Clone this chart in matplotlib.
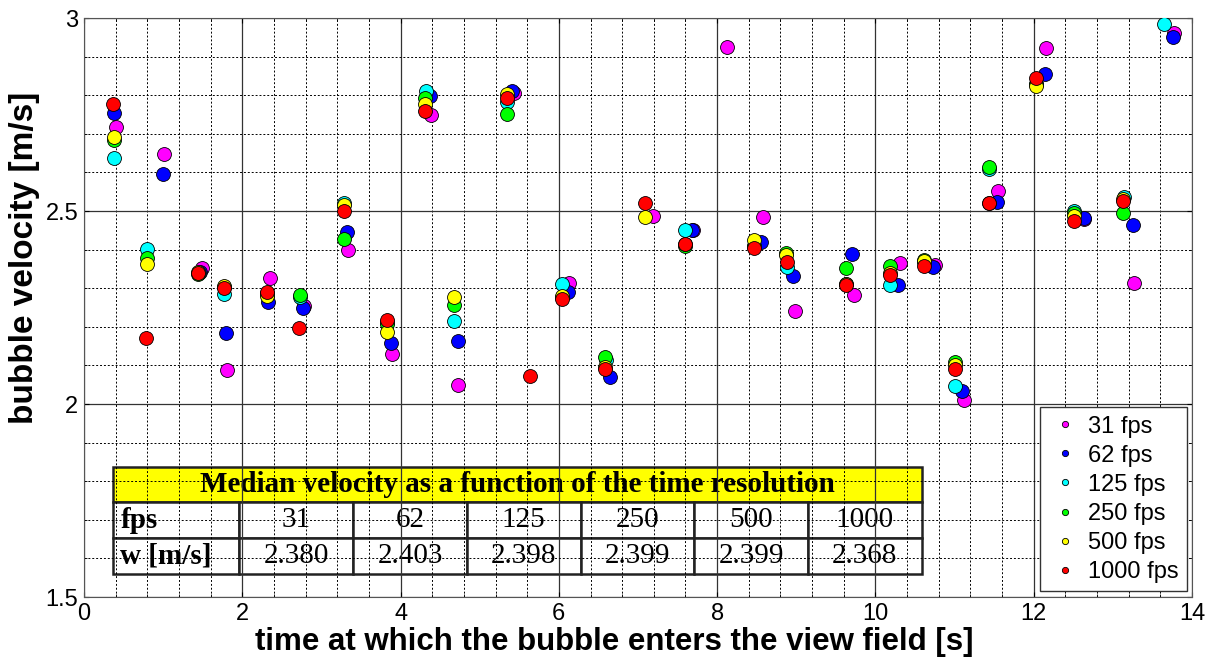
#!/usr/bin/env python3

import numpy as np
import matplotlib
matplotlib.use("Agg")
import matplotlib.pyplot as plt
from matplotlib.ticker import MultipleLocator

# bubble entry time [s] and velocity [m/s], one pair of lists per frame rate
t_31 = [0.40, 1.01, 1.49, 1.81, 2.35, 2.78, 3.34, 3.89, 4.39, 4.73, 5.43, 6.13,
        7.19, 7.70, 8.13, 8.58, 8.98, 9.73, 10.31, 10.75, 11.12, 11.55, 12.16,
        12.64, 13.27, 13.77]
v_31 = [2.718, 2.648, 2.353, 2.087, 2.326, 2.253, 2.399, 2.129, 2.749, 2.048, 2.805, 2.314,
        2.487, 2.452, 2.926, 2.484, 2.242, 2.282, 2.366, 2.360, 2.010, 2.551, 2.923,
        2.478, 2.314, 2.962]

t_62 = [0.38, 1.00, 1.46, 1.79, 2.33, 2.77, 3.32, 3.88, 4.37, 4.72, 5.41, 6.11,
        6.65, 7.68, 8.56, 8.96, 9.71, 10.29, 10.73, 11.10, 11.54, 12.14, 12.63,
        13.25, 13.76]
v_62 = [2.753, 2.596, 2.342, 2.184, 2.264, 2.250, 2.446, 2.159, 2.799, 2.162, 2.812, 2.290,
        2.071, 2.452, 2.421, 2.331, 2.389, 2.309, 2.355, 2.034, 2.523, 2.855, 2.481,
        2.465, 2.952]

t_125 = [0.38, 0.80, 1.45, 1.77, 2.31, 2.73, 3.29, 3.83, 4.32, 4.68, 5.35, 6.04,
         6.59, 7.60, 8.47, 8.88, 9.63, 10.19, 10.62, 11.00, 11.44, 12.03, 12.51,
         13.14, 13.64]
v_125 = [2.638, 2.401, 2.340, 2.285, 2.285, 2.278, 2.520, 2.212, 2.812, 2.215, 2.783, 2.312,
         2.115, 2.450, 2.410, 2.356, 2.310, 2.308, 2.368, 2.047, 2.610, 2.830, 2.501,
         2.537, 2.985]

t_250 = [0.38, 0.80, 1.44, 1.77, 2.31, 2.73, 3.29, 3.83, 4.31, 4.67, 5.35, 6.04,
         6.58, 7.59, 8.47, 8.87, 9.63, 10.19, 10.62, 11.00, 11.43, 12.03, 12.51,
         13.13]
v_250 = [2.684, 2.379, 2.337, 2.303, 2.287, 2.282, 2.428, 2.208, 2.792, 2.256, 2.751, 2.278,
         2.123, 2.410, 2.410, 2.392, 2.352, 2.357, 2.372, 2.110, 2.615, 2.830, 2.494,
         2.494]

t_500 = [0.38, 0.80, 1.44, 1.77, 2.31, 3.29, 3.83, 4.31, 4.67, 5.35, 6.04,
         6.58, 7.09, 7.59, 8.47, 8.87, 9.63, 10.19, 10.62, 11.00, 11.43, 12.03,
         12.51, 13.13]
v_500 = [2.691, 2.362, 2.342, 2.305, 2.280, 2.515, 2.187, 2.777, 2.276, 2.803, 2.280,
         2.095, 2.485, 2.415, 2.425, 2.386, 2.310, 2.340, 2.370, 2.102, 2.520, 2.825,
         2.488, 2.530]

t_1000 = [0.37, 0.78, 1.44, 1.77, 2.31, 2.72, 3.29, 3.83, 4.31, 5.64, 5.35, 6.04,
          6.58, 7.09, 7.59, 8.47, 8.88, 9.63, 10.19, 10.62, 11.00, 11.43, 12.03,
          12.51, 13.13]
v_1000 = [2.776, 2.171, 2.340, 2.301, 2.290, 2.196, 2.501, 2.218, 2.758, 2.072, 2.792, 2.271,
          2.091, 2.522, 2.415, 2.403, 2.369, 2.308, 2.335, 2.357, 2.090, 2.521, 2.845,
          2.474, 2.527]

fps_labels = ["31", "62", "125", "250", "500", "1000"]
median_w = ["2.380", "2.403", "2.398", "2.399", "2.399", "2.368"]

#==============================================================================

plt.rcParams["font.family"] = ["Liberation Sans", "DejaVu Sans"]

series = [(t_31, v_31, "#ff00ff"),
          (t_62, v_62, "#0000ff"),
          (t_125, v_125, "#00ffff"),
          (t_250, v_250, "#00ff00"),
          (t_500, v_500, "#ffff00"),
          (t_1000, v_1000, "#ff0000")]

fig = plt.figure(figsize=(12.12, 6.57), dpi=100)
ax = fig.add_axes([0.0693, 0.0913, 0.9142, 0.8813])

for (t, v, col), fps in zip(series, fps_labels):
    ax.plot(t, v, "o", color=col, markersize=10, markeredgecolor="black",
            markeredgewidth=0.6, label=fps + " fps", zorder=3)

ax.set_xlim(0, 14)
ax.set_ylim(1.5, 3)
ax.xaxis.set_major_locator(MultipleLocator(2))
ax.xaxis.set_minor_locator(MultipleLocator(0.4))
ax.yaxis.set_major_locator(MultipleLocator(0.5))
ax.yaxis.set_minor_locator(MultipleLocator(0.1))
ax.set_yticks([1.5, 2, 2.5, 3])
ax.set_yticklabels(["1.5", "2", "2.5", "3"])
ax.grid(True, which="major", color="#333333", linestyle="-", linewidth=0.9)
ax.grid(True, which="minor", color="black", linestyle=(0, (2, 2)), linewidth=0.7)
ax.set_axisbelow(True)
ax.tick_params(which="both", direction="in", top=True, right=True,
               labelsize=17, pad=4)
for s in ax.spines.values():
    s.set_color("#555555")

ax.set_xlabel("time at which the bubble enters the view field [s]",
              fontsize=22.5, fontweight="bold")
ax.set_ylabel("bubble velocity [m/s]", fontsize=24, fontweight="bold")
ax.xaxis.set_label_coords(0.479, -0.052)
ax.yaxis.set_label_coords(-0.040, 0.585)

leg = ax.legend(loc="lower right", bbox_to_anchor=(0.9955, 0.010), borderaxespad=0,
                fontsize=17, markerscale=0.45, labelspacing=0.3, handlelength=1.4,
                handletextpad=0.3, fancybox=False, edgecolor="#333333",
                framealpha=1, borderpad=0.35)
leg.get_frame().set_linewidth(1.0)

# table of median velocities
TB_X, TB_Y, TB_W, TB_H = 0.026, 0.040, 0.73, 0.185
head = ax.table(cellText=[["Median velocity as a function of the time resolution"]],
                bbox=[TB_X, TB_Y + TB_H * 2 / 3, TB_W, TB_H / 3], cellLoc="center")
head.auto_set_font_size(False)
hc = head[0, 0]
hc.set_facecolor("#ffff00")
hc.set_linewidth(1.8)
hc.set_edgecolor("#222222")
hc.get_text().set_fontfamily("Liberation Serif")
hc.get_text().set_fontsize(21)
hc.get_text().set_fontweight("bold")

cells = [["fps"] + fps_labels, ["w [m/s]"] + median_w]
col_w = [127] + [114] * 6
tb = ax.table(cellText=cells, colWidths=[w / sum(col_w) for w in col_w],
              bbox=[TB_X, TB_Y, TB_W, TB_H * 2 / 3], cellLoc="center")
tb.auto_set_font_size(False)
for (r, c), cell in tb.get_celld().items():
    cell.set_linewidth(1.8)
    cell.set_edgecolor("#222222")
    cell.get_text().set_fontfamily("Liberation Serif")
    cell.get_text().set_fontsize(21)
    if c == 0:
        cell.get_text().set_fontweight("bold")
        cell.get_text().set_ha("left")
        cell.PAD = 0.06

fig.savefig("out.png", dpi=100)
